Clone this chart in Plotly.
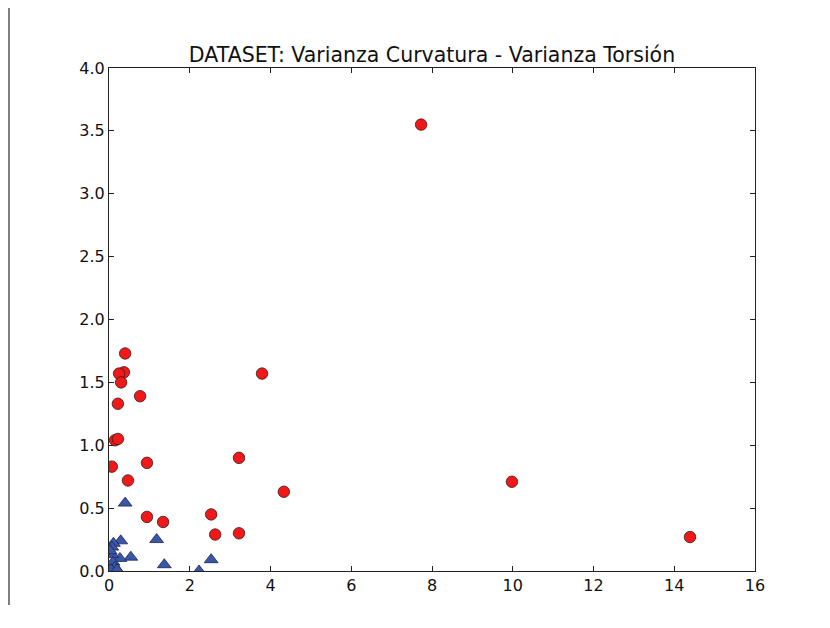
import plotly.graph_objects as go

title = "DATASET: Varianza Curvatura - Varianza Torsión"

red_x = [7.73, 3.79, 0.40, 0.37, 0.25, 0.30, 0.77, 0.22, 0.15, 0.22, 0.07, 0.94, 0.47, 0.94, 1.34, 3.22, 4.33, 2.53, 2.63, 3.22, 9.98, 14.39]
red_y = [3.55, 1.57, 1.73, 1.58, 1.57, 1.50, 1.39, 1.33, 1.04, 1.05, 0.83, 0.86, 0.72, 0.43, 0.39, 0.90, 0.63, 0.45, 0.29, 0.30, 0.71, 0.27]

blue_x = [0.40, 1.18, 0.29, 0.11, 0.07, 0.54, 0.27, 0.07, 0.10, 0.15, 1.37, 2.53, 2.23, 0.03, 0.05, 0.20]
blue_y = [0.54, 0.25, 0.24, 0.22, 0.19, 0.11, 0.10, 0.13, 0.07, 0.03, 0.05, 0.09, 0.00, 0.16, 0.01, 0.01]

x_ticks = [0, 2, 4, 6, 8, 10, 12, 14, 16]
y_ticks = [0.0, 0.5, 1.0, 1.5, 2.0, 2.5, 3.0, 3.5, 4.0]

fig = go.Figure()
fig.add_trace(go.Scatter(
    x=red_x, y=red_y, mode="markers",
    marker=dict(symbol="circle", size=11.5, color="#f01818",
                line=dict(color="#3a1a1a", width=0.8)),
    showlegend=False))
fig.add_trace(go.Scatter(
    x=blue_x, y=blue_y, mode="markers",
    marker=dict(symbol="triangle-up", size=12, color="#3a56a8",
                line=dict(color="#1a2450", width=0.8)),
    showlegend=False))

axis_common = dict(showgrid=False, zeroline=False, showline=True, linecolor="#222",
                   linewidth=1.2, mirror="allticks", ticks="inside", ticklen=5,
                   tickcolor="#222", tickfont=dict(family="DejaVu Sans", size=16, color="#111"))

fig.update_xaxes(range=[0, 16], tickvals=x_ticks, ticktext=[str(v) for v in x_ticks], **axis_common)
fig.update_yaxes(range=[0, 4], tickvals=y_ticks, ticktext=[f"{v:.1f}" for v in y_ticks], **axis_common)

# page body has an 8px margin, so figure coords = screen coords - 8
L, R, T, B = 101, 747, 60, 563
fig.update_layout(
    width=830, height=628,
    margin=dict(l=L, r=830 - R, t=T, b=628 - B),
    paper_bgcolor="white", plot_bgcolor="white",
    title=dict(text=title, x=(L + R) / 2 / 830, xanchor="center",
               y=1 - 46.5 / 628, yanchor="middle",
               font=dict(family="DejaVu Sans", size=20.5, color="#111")),
    shapes=[dict(type="line", xref="paper", yref="paper",
                 x0=(1 - L) / (R - L), x1=(1 - L) / (R - L),
                 y0=(B - 597) / (B - T), y1=(B - 0) / (B - T),
                 line=dict(color="#555", width=1.5))],
)

fig.write_html("out.html")
